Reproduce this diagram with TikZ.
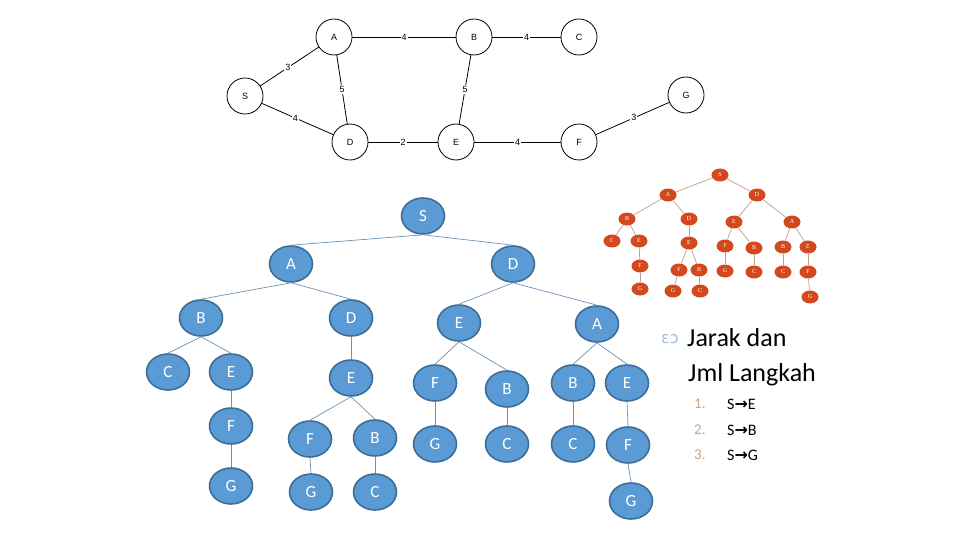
\documentclass[tikz,border=0pt]{standalone}
\usepackage{fontspec}
\setmainfont{Carlito}
\newfontfamily\arialfont{Liberation Sans}
\newfontfamily\timesfont{Liberation Serif}
\newfontfamily\dejavu{DejaVu Sans}
\usetikzlibrary{shapes.geometric}
\definecolor{BlueFill}{HTML}{5B9BD5}
\definecolor{BlueLine}{HTML}{3E6D98}
\definecolor{BlueEdge}{HTML}{6A92BA}
\definecolor{RedFill}{HTML}{D3491D}
\definecolor{RedEdge}{HTML}{C39A8C}
\definecolor{NumTan}{HTML}{C9A47C}
\definecolor{BulletBlue}{HTML}{9DBCDD}
\tikzset{
  gnode/.style={draw, circle, minimum size=36pt, inner sep=0pt, line width=0.8pt,
                font=\arialfont\fontsize{9pt}{10pt}\selectfont},
  gedge/.style={line width=0.8pt},
  glabel/.style={fill=white, inner sep=1pt, font=\arialfont\fontsize{9pt}{10pt}\selectfont},
  tnode/.style={ellipse, draw=BlueLine, fill=BlueFill, line width=1.6pt, minimum width=43pt,
                minimum height=36pt, inner sep=0pt, text=white, font=\fontsize{17pt}{19pt}\selectfont},
  tedge/.style={draw=BlueEdge, line width=0.7pt},
  rnode/.style={ellipse, fill=RedFill, minimum width=17pt, minimum height=13pt, inner sep=0pt,
                text=white, font=\timesfont\fontsize{6pt}{7pt}\selectfont},
  redge/.style={draw=RedEdge, line width=0.7pt},
}
\begin{document}
\begin{tikzpicture}[x=1pt, y=-1pt]
  \useasboundingbox (0,0) rectangle (960,540);
  % weighted graph
  \node[gnode] (s) at (245,96) {S};
  \node[gnode] (a) at (334,37) {A};
  \node[gnode] (b) at (474,37) {B};
  \node[gnode] (c) at (579,37) {C};
  \node[gnode] (d) at (350,142) {D};
  \node[gnode] (e) at (456,142) {E};
  \node[gnode] (f) at (579,142) {F};
  \node[gnode] (g) at (686,95) {G};
  \draw[gedge] (s) -- node[glabel, pos=0.47] {3} (a);
  \draw[gedge] (s) -- node[glabel, pos=0.47] {4} (d);
  \draw[gedge] (a) -- node[glabel] {4} (b);
  \draw[gedge] (b) -- node[glabel] {4} (c);
  \draw[gedge] (a) -- node[glabel] {5} (d);
  \draw[gedge] (b) -- node[glabel] {5} (e);
  \draw[gedge] (d) -- node[glabel] {2} (e);
  \draw[gedge] (e) -- node[glabel, pos=0.5] {4} (f);
  \draw[gedge] (f) -- node[glabel, pos=0.52] {3} (g);

  % search tree (blue)
  \node[tnode] (n) at (423,216) {S};
  \node[tnode] (na) at (291,264) {A};
  \node[tnode] (nd) at (513,264) {D};
  \node[tnode] (nab) at (201,318) {B};
  \node[tnode] (nad) at (351,318) {D};
  \node[tnode] (nde) at (459,323) {E};
  \node[tnode] (nda) at (597,324) {A};
  \node[tnode] (nabc) at (168,372) {C};
  \node[tnode] (nabe) at (231,372) {E};
  \node[tnode] (nade) at (351,378) {E};
  \node[tnode] (ndef) at (435,383) {F};
  \node[tnode] (ndeb) at (507,389) {B};
  \node[tnode] (ndab) at (573,383) {B};
  \node[tnode] (ndae) at (627,383) {E};
  \node[tnode] (nabef) at (231,426) {F};
  \node[tnode] (nadef) at (310,439) {F};
  \node[tnode] (nadeb) at (375,438) {B};
  \node[tnode] (ndefg) at (435,444) {G};
  \node[tnode] (ndebc) at (507,444) {C};
  \node[tnode] (ndabc) at (573,444) {C};
  \node[tnode] (ndaef) at (628,445) {F};
  \node[tnode] (nabefg) at (231,486) {G};
  \node[tnode] (nadefg) at (311,492) {G};
  \node[tnode] (nadebc) at (375,492) {C};
  \node[tnode] (ndaefg) at (631,501) {G};
  \foreach \p/\q in {n/na, n/nd, na/nab, na/nad, nd/nde, nd/nda, nab/nabc, nab/nabe,
      nad/nade, nde/ndef, nde/ndeb, nda/ndab, nda/ndae, nabe/nabef, nade/nadef, nade/nadeb,
      ndef/ndefg, ndeb/ndebc, ndab/ndabc, ndae/ndaef, nabef/nabefg, nadef/nadefg,
      nadeb/nadebc, ndaef/ndaefg}
    \draw[tedge] (\p.south) -- (\q.north);

  % search tree (red, small)
  \node[rnode] (r) at (720,175) {S};
  \node[rnode] (ra) at (668,195) {A};
  \node[rnode] (rd) at (757,195) {D};
  \node[rnode] (rab) at (627,219) {B};
  \node[rnode] (rad) at (689,219) {D};
  \node[rnode] (rde) at (734,222) {E};
  \node[rnode] (rda) at (792,222) {A};
  \node[rnode] (rabc) at (612,241) {C};
  \node[rnode] (rabe) at (639,241) {E};
  \node[rnode] (rade) at (689,243) {E};
  \node[rnode] (rdef) at (725,246) {F};
  \node[rnode] (rdeb) at (754,248) {B};
  \node[rnode] (rdab) at (783,247) {B};
  \node[rnode] (rdae) at (808,247) {E};
  \node[rnode] (rabef) at (640,266) {F};
  \node[rnode] (radef) at (679,270) {F};
  \node[rnode] (radeb) at (699,270) {B};
  \node[rnode] (rdefg) at (725,271) {G};
  \node[rnode] (rdebc) at (754,272) {C};
  \node[rnode] (rdabc) at (783,272) {C};
  \node[rnode] (rdaef) at (808,272) {F};
  \node[rnode] (rabefg) at (640,289) {G};
  \node[rnode] (radefg) at (673,291) {G};
  \node[rnode] (radebc) at (700,291) {C};
  \node[rnode] (rdaefg) at (810,297) {G};
  \foreach \p/\q in {r/ra, r/rd, ra/rab, ra/rad, rd/rde, rd/rda, rab/rabc, rab/rabe,
      rad/rade, rde/rdef, rde/rdeb, rda/rdab, rda/rdae, rabe/rabef, rade/radef, rade/radeb,
      rdef/rdefg, rdeb/rdebc, rdab/rdabc, rdae/rdaef, rabef/rabefg, radef/radefg,
      radeb/radebc, rdaef/rdaefg}
    \draw[redge] (\p) -- (\q);

  % text
  \node[anchor=west, text=BulletBlue, inner sep=0pt, font=\dejavu\fontsize{16pt}{18pt}\selectfont] (bullet) at (661,339) {ɛɔ};
  \node[anchor=west, inner sep=0pt, font=\fontsize{26pt}{30pt}\selectfont] (t1) at (687,338) {Jarak dan};
  \node[anchor=west, inner sep=0pt, font=\fontsize{26pt}{30pt}\selectfont] (t2) at (688,375) {Jml Langkah};
  \foreach \i/\t/\y in {1/E/404, 2/B/430, 3/G/455} {
    \node[anchor=west, inner sep=0pt, text=NumTan, font=\fontsize{15pt}{17pt}\selectfont] (num\i) at (694,\y) {\i.};
    \node[anchor=west, inner sep=0pt, font=\fontsize{16pt}{18pt}\selectfont] (item\i) at (727,\y) {S{\dejavu\bfseries→}\t};
  }
\end{tikzpicture}
\end{document}
